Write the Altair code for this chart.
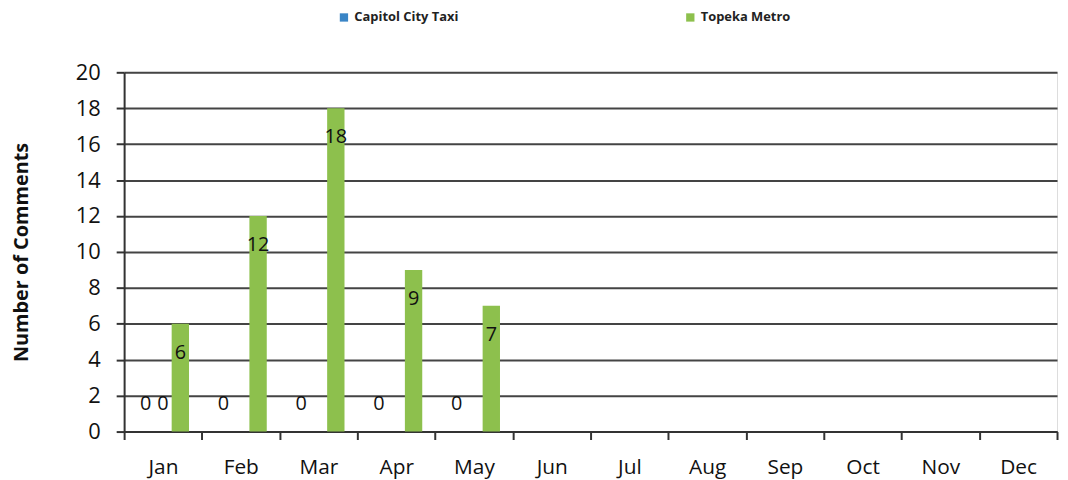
import altair as alt
import pandas as pd

months = ["Jan", "Feb", "Mar", "Apr", "May", "Jun", "Jul", "Aug", "Sep", "Oct", "Nov", "Dec"]
taxi = [0, 0, 0, 0, 0, None, None, None, None, None, None, None]
metro = [6, 12, 18, 9, 7, None, None, None, None, None, None, None]
other = [0, None, None, None, None, None, None, None, None, None, None, None]

series_order = ["Capitol City Taxi", "Other", "Topeka Metro"]
legend_series = ["Capitol City Taxi", "Topeka Metro"]
colors = ["#3A85C6", "#8DC04D"]

rows = []
for m, t, o, g in zip(months, taxi, other, metro):
    if t is not None:
        rows.append({"month": m, "series": "Capitol City Taxi", "value": t})
    if o is not None:
        rows.append({"month": m, "series": "Other", "value": o})
    if g is not None:
        rows.append({"month": m, "series": "Topeka Metro", "value": g})
df = pd.DataFrame(rows)

FONT = "Open Sans"

x_enc = alt.X(
    "month:N",
    scale=alt.Scale(domain=months, paddingInner=0, paddingOuter=0),
    axis=alt.Axis(
        title=None, labelAngle=0, tickBand="extent", labelFontSize=21,
        labelPadding=17, tickSize=8, labelFont=FONT, labelColor="#111",
        domainColor="#333", tickColor="#333", domainWidth=2, tickWidth=2,
    ),
)
xo_enc = alt.XOffset("series:N", scale=alt.Scale(domain=series_order, paddingInner=0, paddingOuter=0.74))
y_enc = alt.Y(
    "value:Q",
    scale=alt.Scale(domain=[0, 20]),
    axis=alt.Axis(
        title="Number of Comments", values=list(range(0, 21, 2)), labelFontSize=22,
        labelFont=FONT, labelColor="#111", titleFont=FONT, titleFontSize=20,
        titleFontWeight="bold", titleColor="#111", titlePadding=44, tickSize=8,
        labelPadding=16, domainColor="#333", tickColor="#333", domainWidth=2,
        tickWidth=2, gridColor="#444", gridWidth=2,
    ),
)

base = alt.Chart(df)

bars = base.transform_filter(
    alt.FieldOneOfPredicate(field="series", oneOf=legend_series)
).mark_bar().encode(
    x=x_enc,
    xOffset=xo_enc,
    y=y_enc,
    color=alt.Color(
        "series:N",
        scale=alt.Scale(domain=legend_series, range=colors),
        legend=alt.Legend(
            title=None, orient="none", direction="horizontal", legendX=215,
            legendY=-62, symbolType="square", symbolSize=70, symbolStrokeWidth=0,
            labelFont=FONT, labelFontSize=13, labelFontWeight="bold",
            labelColor="#222", columnPadding=227, labelOffset=4,
        ),
    ),
)

metro_labels = base.transform_filter(
    alt.datum.series == "Topeka Metro"
).mark_text(dy=29, fontSize=20, font=FONT, color="#111").encode(
    x=x_enc, xOffset=xo_enc, y=y_enc, text="value:Q"
)

zero_labels = base.transform_filter(
    alt.datum.series != "Topeka Metro"
).mark_text(dy=-28, fontSize=20, font=FONT, color="#111").encode(
    x=x_enc, xOffset=xo_enc, y=y_enc, text="value:Q"
)

chart = alt.layer(bars, metro_labels, zero_labels).properties(
    width=940, height=362,
    autosize=alt.AutoSizeParams(type="none"),
    padding={"left": 117, "top": 63, "right": 3, "bottom": 47},
).configure_view(stroke=None).configure(background="white")

chart.save("out.html", embed_options={"renderer": "svg", "actions": False})
